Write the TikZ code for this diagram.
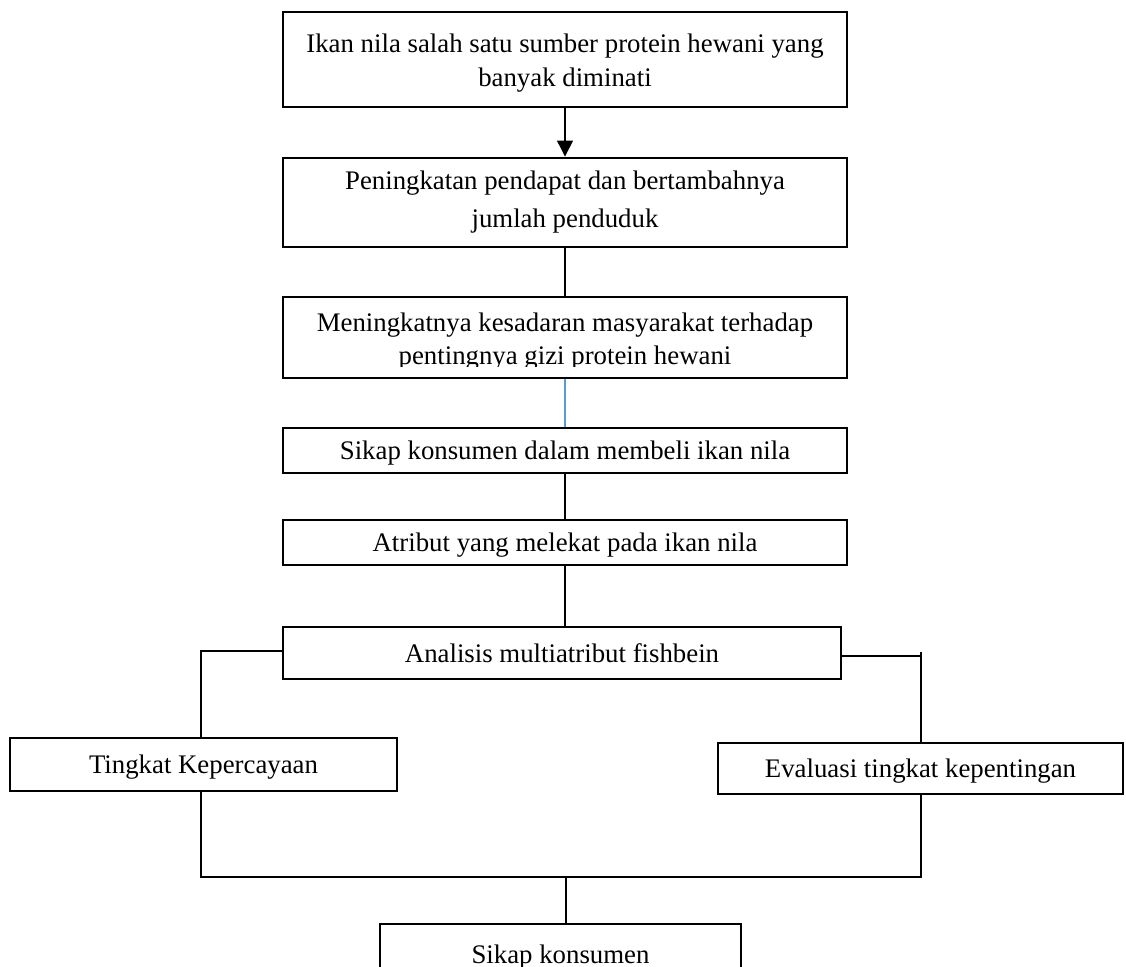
\documentclass[tikz,border=0pt]{standalone}
\usepackage{fontspec}
\setmainfont{Liberation Serif}
\usetikzlibrary{arrows.meta,calc}
\begin{document}
\begin{tikzpicture}[x=0.75pt,y=-0.75pt,
  box/.style={draw, line width=1.9pt, inner sep=0pt, align=center,
    font=\fontsize{20.1}{25}\selectfont},
  onebox/.style={box, text height=18pt, text depth=4.5pt},
  txt/.style={inner sep=0pt, font=\fontsize{20.1}{25}\selectfont},
  conn/.style={line width=1pt},
  arr/.style={line width=2pt, -{Triangle[length=12pt,width=11.5pt]}}]
\useasboundingbox (0,0) rectangle (1126,966);
\clip (0,0) rectangle (1126,966);

\node[box, minimum width=423pt, minimum height=71.25pt] (b1) at (565,59.5)
  {\rule{0pt}{19.5pt}Ikan nila salah satu sumber protein hewani yang\\banyak diminati};
\node[box, minimum width=423pt, minimum height=66.75pt] (b2) at (565,202.5)
  {Peningkatan pendapat dan bertambahnya\\[3.5pt]jumlah penduduk};
\node[box, minimum width=423pt, minimum height=60.75pt] (b3) at (565,337.5) {};
\begin{scope}
  \clip ($(b3.north west)+(2,2)$) rectangle ($(b3.south east)+(-2,-13)$);
  \node[txt, anchor=base] (b3a) at (565,331) {Meningkatnya kesadaran masyarakat terhadap};
  \node[txt, anchor=base] (b3b) at (565,364.5) {pentingnya gizi protein hewani};
\end{scope}
\node[onebox, minimum width=423pt, minimum height=33.75pt] (b4) at (565,450.5)
  {Sikap konsumen dalam membeli ikan nila};
\node[onebox, minimum width=423pt, minimum height=33.75pt] (b5) at (565,542.5)
  {Atribut yang melekat pada ikan nila};
\node[onebox, minimum width=418.5pt, minimum height=39pt] (b6) at (562,653)
  {Analisis multiatribut fishbein};
\node[onebox, minimum width=290.25pt, minimum height=39.75pt] (tk) at (203.5,764.5)
  {Tingkat Kepercayaan};
\node[onebox, minimum width=303.75pt, minimum height=38.25pt] (ev) at (920.5,768.5)
  {Evaluasi tingkat kepentingan};
\node[onebox, minimum width=270.75pt, minimum height=45pt] (sk) at (560.5,954)
  {Sikap konsumen};

\draw[arr] (b1.south) -- (b2.north);
\draw[conn] (b2.south) -- (b3.north);
\draw[line width=0.8pt, color={rgb,255:red,91;green,155;blue,213}] (b3.south) -- (b4.north);
\draw[conn] (b4.south) -- (b5.north);
\draw[conn] (b5.south) -- (b5.south |- b6.north);

\coordinate (lb) at (201,651);
\coordinate (rb) at (921,656);
\coordinate (rt) at (921,652);
\draw[conn] (b6.west |- lb) -- (lb) -- (lb |- tk.north);
\draw[conn] (b6.east |- rb) -- (rb);
\draw[conn] (rt) -- (rt |- ev.north);

\coordinate (jl) at (201,877);
\coordinate (jr) at (921,877);
\coordinate (jm) at (566,877);
\draw[conn] (jl |- tk.south) -- (jl) -- (jr) -- (jr |- ev.south);
\draw[conn] (jm) -- (jm |- sk.north);
\end{tikzpicture}
\end{document}
